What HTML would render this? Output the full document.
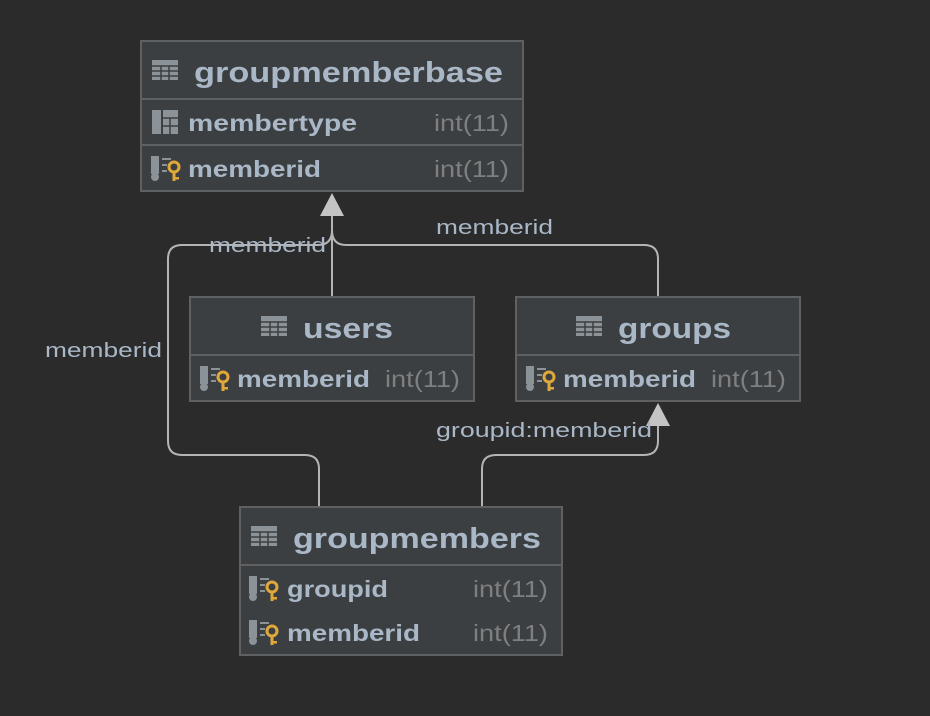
<!DOCTYPE html>
<html><head><meta charset="utf-8"><style>
html,body{margin:0;padding:0;background:#2b2b2b;}
svg{display:block;}
text{font-family:"Liberation Sans","DejaVu Sans",sans-serif;}
.t{fill:#a9b7c6;font-weight:bold;font-size:29px;}
.r{fill:#a9b7c6;font-weight:bold;font-size:23px;}
.ty{fill:#7d7f81;font-size:23px;}
.l{fill:#a9b7c6;font-size:20px;}
.box{fill:#3c3f41;stroke:#5e6062;stroke-width:2;}
.sep{stroke:#5e6062;stroke-width:2;}
.ln{fill:none;stroke:#b4b4b4;stroke-width:2;}
</style></head><body>
<svg width="930" height="716" viewBox="0 0 930 716">
<defs>
<g id="tbl"><rect x="0" y="0" width="26" height="20" fill="#8c9398"/>
<g stroke="#3c3f41" stroke-width="1.5"><line x1="0" y1="6" x2="26" y2="6"/><line x1="0" y1="11" x2="26" y2="11"/><line x1="0" y1="16" x2="26" y2="16"/><line x1="9" y1="6" x2="9" y2="20"/><line x1="17" y1="6" x2="17" y2="20"/></g></g>
<g id="key"><rect x="0" y="0" width="8" height="18" fill="#8c9398"/><circle cx="4" cy="21" r="4" fill="#8c9398"/>
<g stroke="#8c9398" stroke-width="2"><line x1="11" y1="3" x2="20" y2="3"/><line x1="11" y1="9" x2="16" y2="9"/><line x1="11" y1="15" x2="16" y2="15"/></g>
<circle cx="23" cy="11" r="5" fill="none" stroke="#e0a83a" stroke-width="3"/><rect x="21.5" y="15" width="3" height="10" fill="#e0a83a"/><rect x="24" y="21" width="4" height="2.5" fill="#e0a83a"/></g>
<g id="col"><rect x="0" y="0" width="9" height="24" fill="#8c9398"/><rect x="11" y="0" width="15" height="24" fill="#8c9398"/>
<g stroke="#3c3f41" stroke-width="1.5"><line x1="11" y1="8" x2="26" y2="8"/><line x1="11" y1="16" x2="26" y2="16"/><line x1="18" y1="8" x2="18" y2="24"/></g></g>
</defs>

<!-- connectors -->
<path class="ln" d="M332 297 V214"/>
<path class="ln" d="M168 441 V259 Q168 245 182 245 H318 Q332 245 332 230"/>
<path class="ln" d="M658 297 V259 Q658 245 644 245 H346 Q332 245 332 230"/>
<path class="ln" d="M319 507 V469 Q319 455 305 455 H182 Q168 455 168 441"/>
<path class="ln" d="M482 507 V469 Q482 455 496 455 H644 Q658 455 658 441 V424"/>
<polygon points="332,193 320,216 344,216" fill="#c4c4c4"/>
<polygon points="658,403 646,426 670,426" fill="#c4c4c4"/>

<text class="l" x="209" y="252" textLength="117" lengthAdjust="spacingAndGlyphs">memberid</text>
<text class="l" x="436" y="234" textLength="117" lengthAdjust="spacingAndGlyphs">memberid</text>
<text class="l" x="45" y="357" textLength="117" lengthAdjust="spacingAndGlyphs">memberid</text>
<text class="l" x="436" y="437" textLength="216" lengthAdjust="spacingAndGlyphs">groupid:memberid</text>

<!-- groupmemberbase -->
<rect class="box" x="141" y="41" width="382" height="150"/>
<line class="sep" x1="141" y1="99" x2="523" y2="99"/>
<line class="sep" x1="141" y1="145" x2="523" y2="145"/>
<use href="#tbl" x="152" y="60"/>
<text class="t" x="194" y="82" textLength="309" lengthAdjust="spacingAndGlyphs">groupmemberbase</text>
<use href="#col" x="152" y="110"/>
<text class="r" x="188" y="131" textLength="169" lengthAdjust="spacingAndGlyphs">membertype</text>
<text class="ty" x="434" y="131" textLength="75" lengthAdjust="spacingAndGlyphs">int(11)</text>
<use href="#key" x="151" y="156"/>
<text class="r" x="188" y="177" textLength="133" lengthAdjust="spacingAndGlyphs">memberid</text>
<text class="ty" x="434" y="177" textLength="75" lengthAdjust="spacingAndGlyphs">int(11)</text>

<!-- users -->
<rect class="box" x="190" y="297" width="284" height="104"/>
<line class="sep" x1="190" y1="355" x2="474" y2="355"/>
<use href="#tbl" x="261" y="316"/>
<text class="t" x="303" y="338" textLength="90" lengthAdjust="spacingAndGlyphs">users</text>
<use href="#key" x="200" y="366"/>
<text class="r" x="237" y="387" textLength="133" lengthAdjust="spacingAndGlyphs">memberid</text>
<text class="ty" x="385" y="387" textLength="75" lengthAdjust="spacingAndGlyphs">int(11)</text>

<!-- groups -->
<rect class="box" x="516" y="297" width="284" height="104"/>
<line class="sep" x1="516" y1="355" x2="800" y2="355"/>
<use href="#tbl" x="576" y="316"/>
<text class="t" x="618" y="338" textLength="113" lengthAdjust="spacingAndGlyphs">groups</text>
<use href="#key" x="526" y="366"/>
<text class="r" x="563" y="387" textLength="133" lengthAdjust="spacingAndGlyphs">memberid</text>
<text class="ty" x="711" y="387" textLength="75" lengthAdjust="spacingAndGlyphs">int(11)</text>

<!-- groupmembers -->
<rect class="box" x="240" y="507" width="322" height="148"/>
<line class="sep" x1="240" y1="565" x2="562" y2="565"/>
<use href="#tbl" x="251" y="526"/>
<text class="t" x="293" y="548" textLength="248" lengthAdjust="spacingAndGlyphs">groupmembers</text>
<use href="#key" x="249" y="576"/>
<text class="r" x="287" y="597" textLength="101" lengthAdjust="spacingAndGlyphs">groupid</text>
<text class="ty" x="473" y="597" textLength="75" lengthAdjust="spacingAndGlyphs">int(11)</text>
<use href="#key" x="249" y="620"/>
<text class="r" x="287" y="641" textLength="133" lengthAdjust="spacingAndGlyphs">memberid</text>
<text class="ty" x="473" y="641" textLength="75" lengthAdjust="spacingAndGlyphs">int(11)</text>
</svg>
</body></html>
